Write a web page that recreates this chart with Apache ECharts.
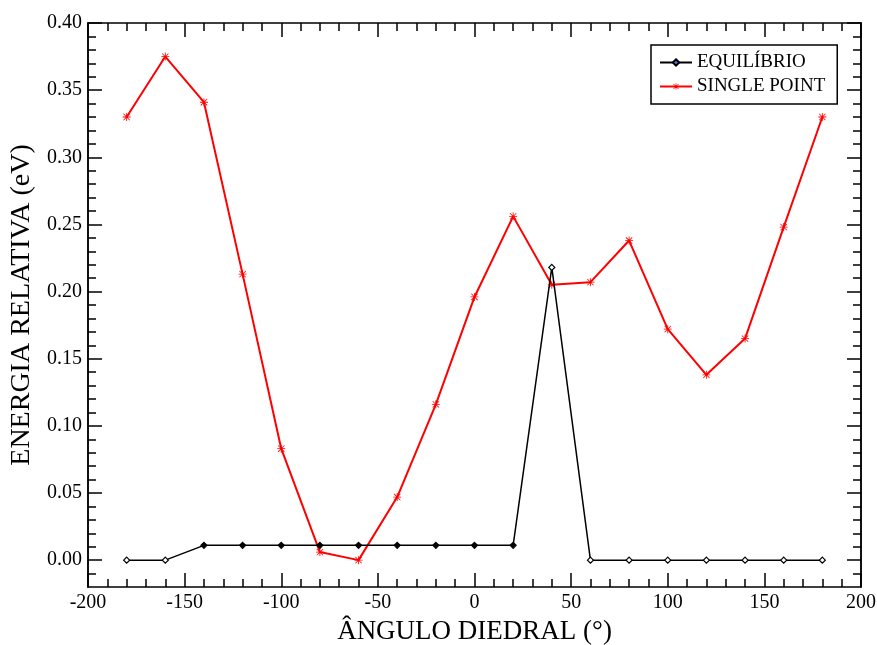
<!DOCTYPE html>
<html>
<head>
<meta charset="utf-8">
<script src="https://cdn.jsdelivr.net/npm/echarts@6/dist/echarts.min.js"></script>
<style>
  html, body { margin: 0; padding: 0; background: #fff; }
  #chart { width: 877px; height: 645px; }
</style>
</head>
<body>
<div id="chart"></div>
<script>
// Dihedral angle scan (degrees)
const angles = [-180, -160, -140, -120, -100, -80, -60, -40, -20, 0, 20, 40, 60, 80, 100, 120, 140, 160, 180];

// Relative energy (eV), relaxed geometry
const equilibrio = [0.000, 0.000, 0.011, 0.011, 0.011, 0.011, 0.011, 0.011, 0.011, 0.011, 0.011, 0.218, 0.000, 0.000, 0.000, 0.000, 0.000, 0.000, 0.000];

// Relative energy (eV), single point
const singlePoint = [0.330, 0.375, 0.341, 0.213, 0.083, 0.006, 0.000, 0.047, 0.116, 0.196, 0.256, 0.205, 0.207, 0.238, 0.172, 0.138, 0.165, 0.248, 0.330];

// Axis tick labels
const yTicks = [0.00, 0.05, 0.10, 0.15, 0.20, 0.25, 0.30, 0.35, 0.40];
const yMinorTicks = [-0.01, 0.01, 0.02, 0.03, 0.04, 0.06, 0.07, 0.08, 0.09, 0.11, 0.12, 0.13, 0.14,
  0.16, 0.17, 0.18, 0.19, 0.21, 0.22, 0.23, 0.24, 0.26, 0.27, 0.28, 0.29, 0.31, 0.32, 0.33, 0.34,
  0.36, 0.37, 0.38, 0.39];

const FONT = "'Liberation Serif', 'DejaVu Serif', serif";

// Asterisk marker built from thin bars
const STAR = 'path://M9,0h2v20h-2z M0,9h20v2h-20z M1.4,2.8L2.8,1.4L18.6,17.2L17.2,18.6z M17.2,1.4L18.6,2.8L2.8,18.6L1.4,17.2z';

const chart = echarts.init(document.getElementById('chart'), null, { renderer: 'canvas' });

function yAxisDef(position, ticks, len, showLabel) {
  return {
    type: 'value',
    position: position,
    min: -0.02,
    max: 0.40,
    axisLine: { show: true, onZero: false, lineStyle: { color: '#000', width: 1.5 } },
    axisTick: { show: true, inside: true, length: len, customValues: ticks, lineStyle: { color: '#000', width: 1.5 } },
    axisLabel: showLabel ? {
      show: true, customValues: ticks, margin: 6,
      formatter: v => v.toFixed(2),
      fontFamily: FONT, fontSize: 20, color: '#000'
    } : { show: false },
    splitLine: { show: false },
    name: showLabel ? 'ENERGIA RELATIVA (eV)' : '',
    nameLocation: 'middle',
    nameGap: 50,
    nameTextStyle: { fontFamily: FONT, fontSize: 28, color: '#000' }
  };
}

function xAxisDef(position, showLabel) {
  return {
    type: 'value',
    position: position,
    min: -200,
    max: 200,
    interval: 50,
    axisLine: { show: true, onZero: false, lineStyle: { color: '#000', width: 1.5 } },
    axisTick: { show: true, inside: true, length: 14, lineStyle: { color: '#000', width: 1.5 } },
    minorTick: { show: true, splitNumber: 5, length: 8, lineStyle: { color: '#000', width: 1.5 } },
    axisLabel: showLabel ? { show: true, margin: 6, fontFamily: FONT, fontSize: 20, color: '#000' } : { show: false },
    splitLine: { show: false },
    minorSplitLine: { show: false },
    name: showLabel ? 'ÂNGULO DIEDRAL (°)' : '',
    nameLocation: 'middle',
    nameGap: 31,
    nameTextStyle: { fontFamily: FONT, fontSize: 27, color: '#000' }
  };
}

const option = {
  backgroundColor: '#fff',
  animation: false,
  grid: { left: 88, right: 16, top: 23, bottom: 58, containLabel: false, outerBoundsMode: 'none' },
  legend: {
    orient: 'vertical',
    left: 651,
    top: 45,
    padding: [8, 12, 8, 8],
    itemGap: 5,
    itemWidth: 32,
    itemHeight: 8,
    borderColor: '#000',
    borderWidth: 1.5,
    borderRadius: 0,
    backgroundColor: '#fff',
    textStyle: { fontFamily: FONT, fontSize: 19, color: '#000' },
    data: ['EQUILÍBRIO', 'SINGLE POINT']
  },
  xAxis: [xAxisDef('bottom', true), xAxisDef('top', false)],
  yAxis: [
    yAxisDef('left', yTicks, 14, true),
    yAxisDef('right', yTicks, 14, false),
    yAxisDef('left', yMinorTicks, 8, false),
    yAxisDef('right', yMinorTicks, 8, false)
  ],
  series: [
    {
      name: 'EQUILÍBRIO',
      type: 'line',
      xAxisIndex: 0,
      yAxisIndex: 0,
      data: angles.map((a, i) => [a, equilibrio[i]]),
      symbol: 'diamond',
      symbolSize: 6,
      lineStyle: { color: '#000', width: 1.5 },
      itemStyle: {
        // plateau points are drawn solid, the rest hollow
        color: p => (p.value && p.value[1] > 0.005 && p.value[1] < 0.1 ? '#000' : '#fff'),
        borderColor: '#000',
        borderWidth: 1.2
      },
      z: 3
    },
    {
      name: 'SINGLE POINT',
      type: 'line',
      xAxisIndex: 0,
      yAxisIndex: 0,
      data: angles.map((a, i) => [a, singlePoint[i]]),
      symbol: STAR,
      symbolSize: 8,
      lineStyle: { color: '#ff0000', width: 2 },
      itemStyle: { color: '#ff0000' },
      z: 2
    }
  ]
};

chart.setOption(option);
</script>
</body>
</html>
